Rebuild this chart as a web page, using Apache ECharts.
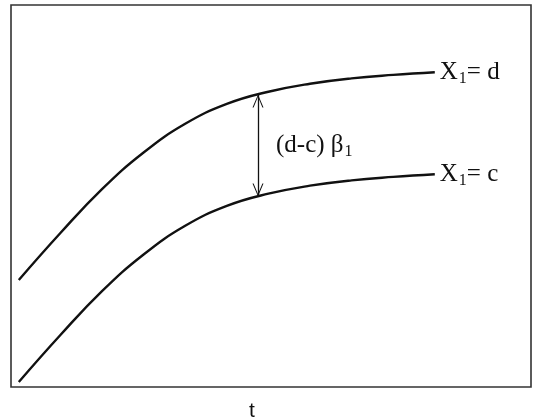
<!DOCTYPE html>
<html>
<head>
<meta charset="utf-8">
<script src="https://cdn.jsdelivr.net/npm/echarts@6/dist/echarts.min.js"></script>
<style>
  html, body { margin: 0; padding: 0; background: #fff; }
  #chart { width: 536px; height: 420px; }
</style>
</head>
<body>
<div id="chart"></div>
<script>
// t positions (0..100 across the box)
var tVals = [1.5, 9.5, 17.5, 25.5, 33.5, 41.5, 49.5, 57.5, 65.5, 73.5, 81.5];
// response for X1 = c (lower) and X1 = d (upper)
var lowerVals = [1.3, 13.6, 25.1, 34.7, 42.2, 47.4, 50.6, 52.7, 54.1, 55.0, 55.7];
var upperVals = [28.0, 40.3, 51.8, 61.4, 68.9, 74.1, 77.3, 79.4, 80.8, 81.7, 82.4];
// where the (d-c) beta1 gap is marked: t, lower value, upper value
var gapT = 47.5;
var gapLow = 49.9;
var gapHigh = 76.6;

function zip(xs, ys) {
  return xs.map(function (x, i) { return [x, ys[i]]; });
}

// open chevron arrow head (tip at the centre of the symbol box)
var chevron = 'path://M0,-14L0.01,-14L0,-13.99Z M0,0L6,14L4.8,14L0,2.6L-4.8,14L-6,14Z';

var labelRich = {
  x: { fontFamily: 'Liberation Serif', fontSize: 25, color: '#111' },
  s: { fontFamily: 'Liberation Serif', fontSize: 16, color: '#111', padding: [13, 0, 0, 1] },
  e: { fontFamily: 'Liberation Serif', fontSize: 25, color: '#111' }
};

var chart = echarts.init(document.getElementById('chart'));
chart.setOption({
  animation: false,
  grid: {
    left: 11, right: 5, top: 5, bottom: 33,
    outerBoundsMode: 'none',
    containLabel: false,
    show: true, borderColor: '#333', borderWidth: 1.6, backgroundColor: '#fff'
  },
  xAxis: {
    type: 'value', min: 0, max: 100,
    name: 't', nameLocation: 'middle', nameGap: 14,
    nameTextStyle: { fontFamily: 'Liberation Sans', fontSize: 21, color: '#111', padding: [0, 38, 0, 0] },
    axisLine: { show: false }, axisTick: { show: false },
    axisLabel: { show: false }, splitLine: { show: false }
  },
  yAxis: {
    type: 'value', min: 0, max: 100,
    axisLine: { show: false }, axisTick: { show: false },
    axisLabel: { show: false }, splitLine: { show: false }
  },
  series: [
    {
      name: 'X1 = d',
      type: 'line',
      smooth: 0.45,
      symbol: 'none',
      lineStyle: { color: '#111', width: 2.4 },
      data: zip(tVals, upperVals),
      endLabel: {
        show: true, distance: 5,
        formatter: '{x|X}{s|1}{e|= d}',
        rich: labelRich
      }
    },
    {
      name: 'X1 = c',
      type: 'line',
      smooth: 0.45,
      symbol: 'none',
      lineStyle: { color: '#111', width: 2.4 },
      data: zip(tVals, lowerVals),
      endLabel: {
        show: true, distance: 5,
        formatter: '{x|X}{s|1}{e|= c}',
        rich: labelRich
      },
      markLine: {
        silent: true,
        symbol: [chevron, chevron],
        symbolSize: [11, 26],
        lineStyle: { color: '#111', width: 1.3, type: 'solid' },
        label: { show: false },
        data: [[
          { coord: [gapT, gapLow] },
          { coord: [gapT, gapHigh] }
        ]]
      },
      markPoint: {
        silent: true,
        symbol: 'circle', symbolSize: 0,
        label: {
          show: true, position: 'right', distance: 0, offset: [18, 0],
          formatter: '{p|(d-c) }{b|β}{s|1}',
          rich: {
            p: { fontFamily: 'Liberation Serif', fontSize: 25, color: '#111' },
            b: { fontFamily: 'Liberation Serif', fontSize: 25, color: '#111' },
            s: { fontFamily: 'Liberation Serif', fontSize: 16, color: '#111', padding: [13, 0, 0, 1] }
          }
        },
        data: [{ coord: [gapT, (gapLow + gapHigh) / 2] }]
      }
    }
  ]
});
</script>
</body>
</html>
